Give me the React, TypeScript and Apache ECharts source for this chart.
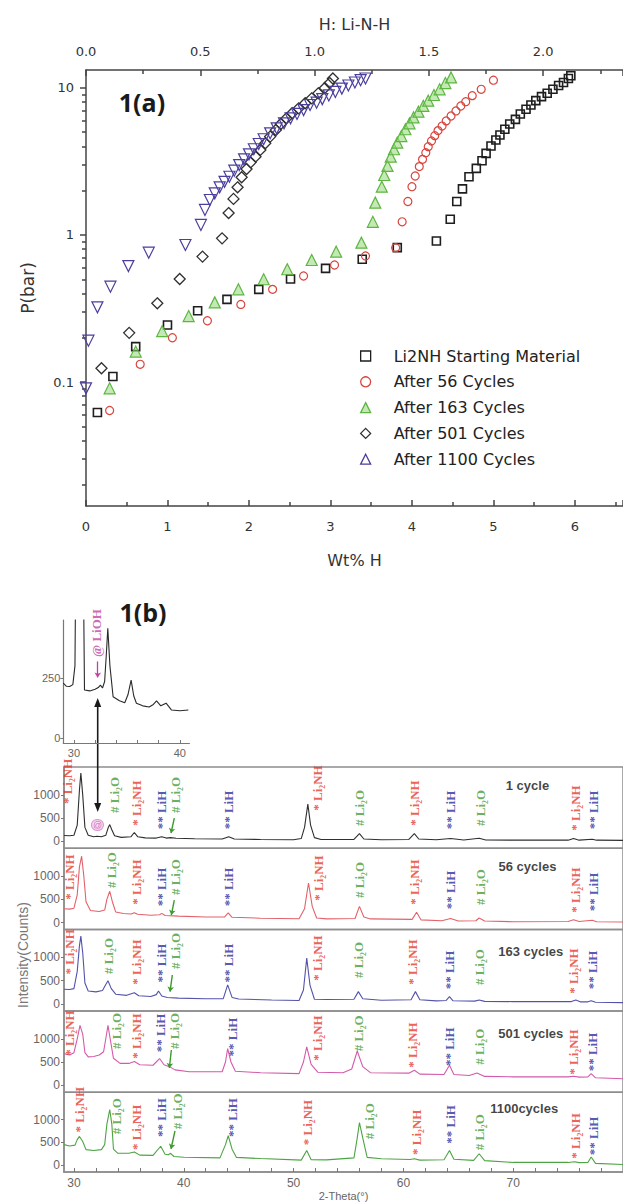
import React, { useEffect, useRef } from "react";
import * as echarts from "echarts";

// ---------- 1(a): pressure–composition isotherms (wt% H, P in bar) ----------
const isoStarting: [number, number][] = [
  [0.14, 0.062], [0.33, 0.109], [0.61, 0.174], [1.0, 0.244], [1.37, 0.305], [1.73, 0.365],
  [2.12, 0.427], [2.51, 0.502], [2.94, 0.593], [3.39, 0.684], [3.82, 0.82], [4.3, 0.91],
  [4.47, 1.28], [4.55, 1.69], [4.62, 2.06], [4.7, 2.49], [4.79, 2.84], [4.86, 3.2],
  [4.91, 3.59], [4.97, 4.03], [5.03, 4.43], [5.08, 4.79], [5.14, 5.24], [5.2, 5.69],
  [5.27, 6.12], [5.33, 6.65], [5.4, 7.16], [5.46, 7.66], [5.52, 8.2], [5.59, 8.73],
  [5.66, 9.2], [5.73, 9.8], [5.8, 10.4], [5.86, 10.9], [5.92, 11.6], [5.95, 12.1],
];
const iso56: [number, number][] = [
  [0.29, 0.064], [0.665, 0.132], [1.06, 0.2], [1.49, 0.261], [1.9, 0.337], [2.29, 0.427],
  [2.67, 0.526], [3.05, 0.625], [3.43, 0.72], [3.8, 0.82], [3.88, 1.23], [3.95, 1.69],
  [4.0, 2.13], [4.04, 2.52], [4.09, 2.92], [4.13, 3.27], [4.17, 3.63], [4.2, 3.99],
  [4.24, 4.36], [4.28, 4.74], [4.32, 5.13], [4.37, 5.51], [4.42, 5.97], [4.48, 6.45],
  [4.54, 6.98], [4.6, 7.54], [4.66, 8.07], [4.74, 8.87], [4.85, 9.8], [5.0, 11.3],
];
const iso163: [number, number][] = [
  [0.29, 0.0906], [0.61, 0.161], [0.935, 0.222], [1.26, 0.281], [1.58, 0.348], [1.87, 0.427],
  [2.18, 0.5], [2.47, 0.585], [2.77, 0.676], [3.07, 0.77], [3.38, 0.887], [3.52, 1.23],
  [3.55, 1.66], [3.63, 2.13], [3.66, 2.56], [3.7, 2.95], [3.74, 3.41], [3.78, 3.83],
  [3.82, 4.25], [3.87, 4.71], [3.92, 5.24], [3.97, 5.75], [4.02, 6.31], [4.08, 6.9],
  [4.14, 7.55], [4.2, 8.2], [4.27, 8.96], [4.34, 9.8], [4.41, 10.8], [4.48, 11.8],
];
const iso501: [number, number][] = [
  [0.19, 0.124], [0.53, 0.216], [0.875, 0.343], [1.15, 0.502], [1.43, 0.713], [1.67, 0.949],
  [1.75, 1.41], [1.81, 1.76], [1.86, 2.11], [1.91, 2.47], [1.97, 2.81], [2.02, 3.12],
  [2.08, 3.41], [2.14, 3.79], [2.2, 4.21], [2.26, 4.67], [2.33, 5.18], [2.39, 5.69],
  [2.46, 6.22], [2.53, 6.73], [2.61, 7.27], [2.69, 7.87], [2.77, 8.5], [2.85, 9.2],
  [2.93, 10.0], [2.99, 10.8], [3.03, 11.6],
];
const iso1100: [number, number][] = [
  [0.0, 0.0906], [0.03, 0.191], [0.14, 0.322], [0.3, 0.445], [0.52, 0.615], [0.77, 0.758],
  [1.22, 0.855], [1.41, 1.17], [1.46, 1.48], [1.52, 1.73], [1.58, 1.92], [1.64, 2.11],
  [1.7, 2.3], [1.76, 2.49], [1.82, 2.74], [1.88, 2.99], [1.94, 3.27], [2.0, 3.54],
  [2.06, 3.83], [2.12, 4.16], [2.18, 4.48], [2.26, 4.92], [2.34, 5.32], [2.43, 5.75],
  [2.51, 6.22], [2.59, 6.66], [2.67, 7.08], [2.75, 7.66], [2.83, 7.94], [2.9, 8.4],
  [2.98, 8.9], [3.06, 9.4], [3.14, 9.9], [3.22, 10.4], [3.3, 10.9], [3.37, 11.3], [3.43, 11.6],
];
const isoNames = [
  "Li2NH Starting Material",
  "After 56 Cycles",
  "After 163 Cycles",
  "After 501 Cycles",
  "After 1100 Cycles",
];
const pMajorTicks = [0.1, 1, 10];
const pMinorTicks = [
  0.02, 0.03, 0.04, 0.05, 0.06, 0.07, 0.08, 0.09,
  0.2, 0.3, 0.4, 0.5, 0.6, 0.7, 0.8, 0.9,
  2, 3, 4, 5, 6, 7, 8, 9,
];

// ---------- 1(b) inset: low-angle region of the 1-cycle pattern ----------
const insetTrace: [number, number][] = [
  [29.0, 228], [29.3, 215], [29.6, 214], [29.9, 222], [30.1, 300], [30.3, 1400], [30.6, 1600],
  [30.85, 900], [31.0, 200], [31.5, 196], [32.0, 203], [32.3, 210], [32.5, 220], [32.7, 208],
  [32.9, 235], [33.05, 340], [33.2, 456], [33.4, 300], [33.7, 172], [34.3, 155], [34.8, 147],
  [35.1, 180], [35.4, 241], [35.65, 175], [35.9, 145], [36.5, 134], [37.1, 129], [37.5, 140],
  [37.8, 155], [38.2, 134], [38.7, 145], [39.2, 117], [40.0, 114], [40.8, 117],
];
const insetXTicks = [30, 32, 34, 36, 38, 40];
const insetXLabels = [30, 40];
const insetYTicks = [0, 250];

// ---------- 1(b): XRD patterns after cycling (2-theta, counts) ----------
const xrdCycle1: [number, number][] = [
  [29.1, 125], [29.6, 120], [30.0, 130], [30.3, 350], [30.5, 1100], [30.63, 1470], [30.8, 1000],
  [31.0, 300], [31.3, 130], [31.8, 100], [32.1, 110], [32.5, 100], [32.9, 130], [33.1, 280],
  [33.26, 360], [33.45, 250], [33.7, 120], [34.3, 85], [35.2, 100], [35.5, 190], [35.8, 100],
  [36.5, 75], [37.5, 70], [38.0, 100], [38.4, 70], [38.8, 80], [39.3, 65], [41, 55], [43.5, 50],
  [44.1, 100], [44.6, 50], [47, 40], [50, 35], [50.7, 60], [51.0, 300], [51.3, 800], [51.55, 350],
  [51.9, 80], [52.5, 40], [55.5, 40], [56.0, 165], [56.4, 50], [58, 35], [60.5, 40], [61.0, 165],
  [61.4, 50], [63, 35], [64.3, 60], [65.5, 30], [66.9, 65], [67.5, 30], [70, 25], [75.0, 25],
  [75.5, 60], [76, 25], [77.2, 45], [77.6, 25], [80, 20],
];
const xrdCycle56: [number, number][] = [
  [29.1, 300], [29.6, 290], [30.0, 310], [30.3, 600], [30.5, 1200], [30.7, 1430], [30.9, 1000],
  [31.1, 450], [31.5, 260], [32.3, 240], [32.8, 270], [33.0, 500], [33.26, 675], [33.5, 450],
  [33.8, 230], [34.5, 195], [35.2, 185], [35.5, 215], [35.8, 180], [37.0, 160], [37.8, 170],
  [38.0, 200], [38.3, 155], [39.5, 140], [42, 120], [43.7, 120], [44.05, 210], [44.4, 115],
  [47, 95], [50.5, 85], [51.0, 300], [51.36, 853], [51.7, 350], [52.1, 100], [53, 80], [55.6, 90],
  [56.0, 350], [56.4, 120], [57, 80], [60.8, 70], [61.2, 222], [61.6, 60], [63.5, 40], [64.3, 90],
  [65, 35], [66.6, 40], [66.9, 100], [67.4, 35], [70, 20], [75, 25], [75.5, 60], [76, 25],
  [77.2, 50], [77.6, 20], [80, 15],
];
const xrdCycle163: [number, number][] = [
  [29.1, 315], [29.6, 310], [30.0, 330], [30.3, 700], [30.5, 1250], [30.63, 1460], [30.8, 1100],
  [31.0, 450], [31.3, 280], [32.0, 260], [32.6, 290], [32.9, 420], [33.1, 500], [33.4, 330],
  [33.8, 210], [34.8, 185], [35.5, 240], [35.9, 175], [37.0, 160], [37.5, 200], [37.7, 280],
  [38.0, 170], [38.5, 140], [39.5, 125], [42, 110], [43.6, 115], [44.0, 410], [44.4, 140],
  [45, 105], [48, 85], [50.5, 75], [50.9, 300], [51.2, 985], [51.5, 400], [51.9, 100], [53, 95],
  [55.5, 100], [55.9, 265], [56.3, 110], [58, 80], [60.7, 90], [61.1, 265], [61.5, 90], [63, 65],
  [63.9, 75], [64.2, 157], [64.5, 70], [66.5, 60], [66.9, 86], [67.4, 55], [70, 50], [75.3, 50],
  [75.7, 86], [76.1, 45], [76.8, 45], [77.1, 70], [77.5, 35], [80, 28],
];
const xrdCycle501: [number, number][] = [
  [29.1, 680], [29.6, 650], [30.0, 700], [30.3, 1000], [30.55, 1290], [30.8, 1100], [31.0, 700],
  [31.3, 610], [31.8, 620], [32.3, 650], [32.7, 720], [32.9, 1000], [33.1, 1290], [33.3, 1000],
  [33.6, 580], [34.2, 470], [35.0, 470], [35.5, 510], [36.0, 440], [37.2, 430], [37.8, 575],
  [38.2, 440], [38.7, 400], [39.2, 330], [40.5, 290], [43.5, 290], [43.8, 500], [44.0, 790],
  [44.3, 500], [44.7, 300], [47, 270], [50.5, 250], [50.9, 500], [51.2, 825], [51.6, 450],
  [52.2, 280], [54.5, 270], [55.3, 350], [55.8, 737], [56.3, 400], [57.0, 270], [60.5, 260],
  [61.0, 323], [61.5, 240], [63.7, 230], [64.2, 430], [64.6, 230], [66.0, 210], [66.7, 265],
  [67.4, 190], [70, 180], [75, 180], [75.5, 195], [76, 175], [76.8, 180], [77.1, 250], [77.5, 160],
  [80, 140],
];
const xrdCycle1100: [number, number][] = [
  [29.1, 450], [29.6, 420], [30.1, 440], [30.3, 560], [30.5, 630], [30.8, 520], [31.1, 340],
  [31.8, 320], [32.5, 340], [32.8, 450], [33.0, 900], [33.26, 1220], [33.45, 900], [33.6, 350],
  [34.0, 260], [35.0, 260], [35.5, 290], [36.0, 220], [37.2, 215], [37.9, 415], [38.3, 240],
  [38.6, 230], [38.8, 260], [39.1, 190], [40, 175], [43.3, 160], [43.8, 450], [44.05, 645],
  [44.4, 350], [44.8, 170], [47, 145], [50.7, 110], [51.2, 320], [51.6, 120], [53, 115],
  [55.5, 160], [55.8, 600], [56.0, 935], [56.3, 600], [56.7, 170], [58, 140], [60.6, 125],
  [61.0, 140], [61.5, 110], [63.7, 120], [64.2, 320], [64.6, 130], [66.4, 105], [66.9, 250],
  [67.4, 100], [70, 60], [75, 60], [75.6, 75], [76, 55], [76.8, 60], [77.1, 180], [77.5, 40],
  [80, 15],
];
const xrdTraces = [xrdCycle1, xrdCycle56, xrdCycle163, xrdCycle501, xrdCycle1100];
const cycleNames = ["1 cycle", "56 cycles", "163 cycles", "501 cycles", "1100cycles"];
const xrdTicks = [30, 32, 34, 36, 38, 40, 42, 44, 46, 48, 50, 52, 54, 56, 58, 60, 62, 64, 66, 68, 70, 72, 74, 76, 78];
const xrdLabels = [30, 40, 50, 60, 70];
const countTicks = [0, 500, 1000];

// phase tags: [phase, 2-theta, counts] – n = Li2NH, o = Li2O, h = LiH
type Tag = [string, number, number];
const tags1: Tag[] = [
  ["n", 29.4, 1290], ["o", 33.71, 997], ["n", 35.67, 824], ["h", 37.99, 674], ["o", 39.23, 997],
  ["h", 44.12, 674], ["n", 52.17, 1147], ["o", 56.04, 717], ["n", 61.01, 824], ["h", 64.33, 674],
  ["o", 66.99, 717], ["n", 75.64, 717], ["h", 77.3, 674],
];
const tags56: Tag[] = [
  ["n", 29.64, 981], ["o", 33.41, 1132], ["n", 35.67, 874], ["h", 37.99, 766], ["o", 39.29, 981],
  ["h", 44.12, 766], ["n", 52.26, 960], ["o", 56.04, 917], ["n", 61.01, 874], ["h", 64.33, 702],
  ["o", 66.99, 766], ["n", 75.64, 702], ["h", 77.3, 659],
];
const tags163: Tag[] = [
  ["n", 29.64, 1120], ["o", 33.17, 1031], ["n", 35.67, 902], ["h", 37.94, 880], ["o", 39.23, 1139],
  ["h", 44.12, 880], ["n", 52.17, 988], ["o", 55.88, 945], ["n", 60.86, 902], ["h", 64.18, 730],
  ["o", 66.9, 794], ["n", 75.49, 708], ["h", 77.24, 730],
];
const tags501: Tag[] = [
  ["n", 29.64, 1124], ["o", 33.92, 1167], ["n", 35.67, 1059], ["h", 37.87, 1124], ["o", 39.14, 1167],
  ["h", 44.42, 1037], ["n", 52.17, 1016], ["o", 55.88, 1117], ["n", 60.86, 865], ["h", 64.18, 829],
  ["o", 66.9, 829], ["n", 75.49, 715], ["h", 77.24, 715],
];
const tags1100: Tag[] = [
  ["n", 30.54, 1216], ["o", 33.92, 1072], ["n", 35.67, 829], ["h", 37.94, 1044], ["o", 39.44, 1180],
  ["h", 44.42, 1044], ["n", 51.27, 936], ["o", 56.94, 964], ["n", 61.16, 721], ["h", 64.33, 893],
  ["o", 66.9, 721], ["n", 75.64, 641], ["h", 77.3, 641],
];
const xrdTags = [tags1, tags56, tags163, tags501, tags1100];
// where each panel's cycle count is written [2-theta, counts]
const cycleNamePos: [number, number][] = [[71.3, 1212], [71.3, 1198], [71.6, 1123], [71.6, 1117], [71.0, 1253]];
// short arrows from the second Li2O tag down to its shoulder [x0, y0, x1, y1]
const li2oArrows: [number, number, number, number][] = [
  [39.14, 501, 38.84, 178], [39.14, 486, 38.87, 164], [38.96, 623, 38.75, 263],
  [38.87, 758, 38.69, 370], [39.2, 749, 38.84, 355],
];

const phaseText: Record<string, string> = { n: "* Li₂NH", o: "# Li₂O", h: "** LiH" };
const phaseColor: Record<string, string> = { n: "#e5392c", o: "#469b36", h: "#2b2c9c" };

const W = 623;
const H = 1202;
const SANS = "'DejaVu Sans', 'Liberation Sans', sans-serif";
const ARIAL = "'Liberation Sans', Arial, sans-serif";
const SERIF = "'Liberation Serif', 'DejaVu Serif', serif";

function buildOption() {
  const log = (p: number) => Math.log10(p);
  // grid geometry
  const aLeft = 86, aTop = 70, aWidth = 545, aHeight = 436;
  const wtMax = aWidth / 82.7;
  const hMax = aWidth / 232;
  const logMin = -1.8435, logMax = 1.1224;
  const panelTops = [767, 848.3, 929.6, 1010.9, 1092.2];
  const panelH = 81.3;
  const xrdLeft = 64, xrdWidth = 562.5, xrdMin = 29.095, xrdMax = 80;

  const axisGray = "#444";
  const grids: any[] = [
    { left: aLeft, top: aTop, width: aWidth, height: aHeight },
    { left: 63.3, top: 620, width: 126.1, height: 123 },
    ...panelTops.map((t) => ({
      left: xrdLeft, top: t, width: xrdWidth, height: panelH,
      show: true, borderColor: "#8d8d8d", borderWidth: 1.5, backgroundColor: "transparent",
    })),
  ];

  const xAxes: any[] = [
    {
      gridIndex: 0, type: "value", position: "bottom", min: 0, max: wtMax, interval: 1,
      axisLine: { onZero: false, lineStyle: { color: axisGray, width: 1.5 } },
      axisTick: { inside: true, length: 6, lineStyle: { color: axisGray, width: 1.5 } },
      minorTick: { show: true, splitNumber: 2, length: 4, lineStyle: { color: axisGray, width: 1.5 } },
      axisLabel: { showMaxLabel: false, margin: 14, fontSize: 13, color: "#333", fontFamily: SANS },
      splitLine: { show: false },
      name: "Wt% H", nameLocation: "middle", nameGap: 46,
      nameTextStyle: { fontSize: 16, color: "#333", fontFamily: SANS },
    },
    {
      gridIndex: 0, type: "value", position: "top", min: 0, max: hMax, interval: 0.5,
      axisLine: { onZero: false, lineStyle: { color: axisGray, width: 1.5 } },
      axisTick: { inside: true, length: 6, lineStyle: { color: axisGray, width: 1.5 } },
      minorTick: { show: true, splitNumber: 2, length: 4, lineStyle: { color: axisGray, width: 1.5 } },
      axisLabel: {
        showMaxLabel: false, margin: 12, fontSize: 13, color: "#333", fontFamily: SANS,
        formatter: (v: number) => v.toFixed(1),
      },
      splitLine: { show: false },
      name: "H: Li-N-H", nameLocation: "middle", nameGap: 38,
      nameTextStyle: { fontSize: 16, color: "#333", fontFamily: SANS },
    },
    {
      gridIndex: 1, type: "value", min: 29, max: 40.9,
      axisLine: { onZero: false, lineStyle: { color: "#777", width: 1.2 } },
      axisTick: { customValues: insetXTicks, inside: true, length: 3, lineStyle: { color: "#777" } },
      axisLabel: { customValues: insetXLabels, margin: 4, fontSize: 11, color: "#666", fontFamily: ARIAL },
      splitLine: { show: false },
    },
    ...panelTops.map((_, i) => ({
      gridIndex: 2 + i, type: "value", min: xrdMin, max: xrdMax,
      axisLine: { show: i === 4, onZero: false, lineStyle: { color: "#8d8d8d", width: 1.5 } },
      axisTick: {
        show: i === 4, customValues: xrdTicks, inside: true, length: 4,
        lineStyle: { color: "#777" },
      },
      axisLabel: {
        show: i === 4, customValues: xrdLabels, margin: 5, fontSize: 12, color: "#666", fontFamily: ARIAL,
      },
      splitLine: { show: false },
      name: i === 4 ? "2-Theta(°)" : "", nameLocation: "middle", nameGap: 18,
      nameTextStyle: { fontSize: 11, color: "#666", fontFamily: ARIAL },
    })),
  ];

  const yAxes: any[] = [
    {
      gridIndex: 0, type: "value", position: "left", min: logMin, max: logMax,
      axisLine: { onZero: false, lineStyle: { color: axisGray, width: 1.5 } },
      axisTick: { customValues: pMajorTicks.map(log), length: 6, lineStyle: { color: axisGray, width: 1.5 } },
      axisLabel: {
        customValues: pMajorTicks.map(log), margin: 12, fontSize: 13, color: "#333", fontFamily: SANS,
        formatter: (v: number) => {
          const hit = pMajorTicks.find((t) => Math.abs(log(t) - v) < 1e-6);
          return hit === undefined ? "" : String(hit);
        },
      },
      splitLine: { show: false },
      name: "P(bar)", nameLocation: "middle", nameGap: 50,
      nameTextStyle: { fontSize: 17, color: "#333", fontFamily: SANS },
    },
    {
      gridIndex: 0, type: "value", position: "left", min: logMin, max: logMax,
      axisLine: { show: false, onZero: false },
      axisTick: { customValues: pMinorTicks.map(log), length: 4, lineStyle: { color: axisGray, width: 1.5 } },
      axisLabel: { show: false },
      splitLine: { show: false },
    },
    {
      gridIndex: 1, type: "value", min: -20, max: 490,
      axisLine: { show: true, onZero: false, lineStyle: { color: "#777", width: 1.2 } },
      axisTick: { show: true, customValues: insetYTicks, length: 3, lineStyle: { color: "#777" } },
      axisLabel: { customValues: insetYTicks, margin: 3, fontSize: 11, color: "#666", fontFamily: ARIAL },
      splitLine: { show: false },
    },
    ...panelTops.map((_, i) => ({
      gridIndex: 2 + i, type: "value", min: -150, max: 1600,
      axisLine: { show: true, onZero: false, lineStyle: { color: "#8d8d8d", width: 1.5 } },
      axisTick: { show: true, customValues: countTicks, length: 3, lineStyle: { color: "#777" } },
      axisLabel: {
        customValues: countTicks, margin: 4, fontSize: 12, color: "#666", fontFamily: ARIAL,
        formatter: (v: number) => String(v),
      },
      splitLine: { show: false },
    })),
  ];

  const hollow = (stroke: string, width = 1.5, fill = "rgba(0,0,0,0)") => ({
    color: fill, borderColor: stroke, borderWidth: width, opacity: 1,
  });
  const isoSets = [isoStarting, iso56, iso163, iso501, iso1100];
  const isoStyle = [
    { symbol: "rect", symbolSize: 8, itemStyle: hollow("#1e1e1e", 1.6) },
    { symbol: "circle", symbolSize: 8, itemStyle: hollow("#d8443c", 1.2) },
    { symbol: "triangle", symbolSize: 11, itemStyle: hollow("#5db542", 1.2, "rgba(150,215,120,0.55)") },
    { symbol: "diamond", symbolSize: 11, itemStyle: hollow("#303030", 1.3) },
    { symbol: "triangle", symbolSize: 11, symbolRotate: 180, itemStyle: hollow("#4a3e9e", 1.2) },
  ];

  const series: any[] = isoSets.map((set, i) => ({
    name: isoNames[i], type: "scatter", xAxisIndex: 0, yAxisIndex: 0,
    data: set.map(([w, p]) => [w, log(p)]),
    ...isoStyle[i],
    emphasis: { disabled: true },
  }));

  // inset trace and its LiOH tag
  series.push({
    type: "line", xAxisIndex: 2, yAxisIndex: 2, data: insetTrace, symbol: "none", clip: true,
    lineStyle: { color: "#2a2a2a", width: 1.1 }, silent: true,
  });
  series.push({
    type: "scatter", xAxisIndex: 2, yAxisIndex: 2, symbolSize: 1, itemStyle: { color: "transparent" },
    silent: true,
    data: [{
      value: [32.1, 436],
      label: {
        show: true, position: "inside", rotate: 90, formatter: "@ LiOH", color: "#c23fa5",
        fontFamily: SERIF, fontWeight: "bold", fontSize: 13,
      },
    }],
    markLine: {
      silent: true, symbol: ["none", "arrow"], symbolSize: 5, label: { show: false },
      lineStyle: { color: "#c23fa5", width: 1.3, type: "solid" },
      data: [[{ coord: [32.25, 318] }, { coord: [32.25, 252] }]],
    },
  });

  xrdTraces.forEach((trace, i) => {
    const colors = ["#2f2f2f", "#e3626a", "#5353aa", "#d45aaa", "#4da444"];
    series.push({
      type: "line", xAxisIndex: 3 + i, yAxisIndex: 3 + i, data: trace, symbol: "none", clip: true,
      lineStyle: { color: colors[i], width: 1.1 }, silent: true,
    });
    const tagData: any[] = xrdTags[i].map(([k, x, y]) => ({
      value: [x, y],
      label: {
        show: true, position: "inside", rotate: 90, formatter: phaseText[k], color: phaseColor[k],
        fontFamily: SERIF, fontWeight: "bold", fontSize: 13,
      },
    }));
    tagData.push({
      value: cycleNamePos[i],
      label: {
        show: true, position: "inside", rotate: 0, formatter: cycleNames[i], color: "#111",
        fontFamily: ARIAL, fontWeight: "bold", fontSize: 13,
      },
    });
    if (i === 0) {
      tagData.push({
        value: [32.14, 351],
        label: {
          show: true, position: "inside", rotate: 0, formatter: "@", color: "#c23fa5",
          fontFamily: ARIAL, fontSize: 9, borderColor: "#d77cc4", borderWidth: 1, borderRadius: 6,
          backgroundColor: "#f7dcf0", padding: [1, 1, 0, 1],
        },
      });
    }
    const [ax0, ay0, ax1, ay1] = li2oArrows[i];
    series.push({
      type: "scatter", xAxisIndex: 3 + i, yAxisIndex: 3 + i, symbolSize: 1,
      itemStyle: { color: "transparent" }, silent: true, clip: false, data: tagData, z: 5,
      markLine: {
        silent: true, symbol: ["none", "arrow"], symbolSize: 5, label: { show: false },
        lineStyle: { color: "#3d9a2e", width: 1.4, type: "solid" },
        data: [[{ coord: [ax0, ay0] }, { coord: [ax1, ay1] }]],
      },
    });
  });

  const arrowX = 97.7;
  const graphic: any[] = [
    {
      type: "text", x: 142, y: 102, silent: true,
      style: { text: "1(a)", fill: "#1a1a1a", font: "bold 25px 'Open Sans', sans-serif", align: "center", verticalAlign: "middle" },
    },
    {
      type: "text", x: 143, y: 612, silent: true,
      style: { text: "1(b)", fill: "#1a1a1a", font: "bold 25px 'Open Sans', sans-serif", align: "center", verticalAlign: "middle" },
    },
    {
      type: "text", x: 23, y: 955, rotation: Math.PI / 2, silent: true,
      style: { text: "Intensity(Counts)", fill: "#777", font: `14px ${ARIAL}`, align: "center", verticalAlign: "middle" },
    },
    {
      type: "line", silent: true,
      shape: { x1: arrowX, y1: 704, x2: arrowX, y2: 806 },
      style: { stroke: "#1a1a1a", lineWidth: 1.6 },
    },
    {
      type: "polygon", silent: true,
      shape: { points: [[arrowX, 698], [arrowX - 3.5, 707], [arrowX + 3.5, 707]] },
      style: { fill: "#1a1a1a" },
    },
    {
      type: "polygon", silent: true,
      shape: { points: [[arrowX, 812], [arrowX - 3.5, 803], [arrowX + 3.5, 803]] },
      style: { fill: "#1a1a1a" },
    },
  ];

  return {
    animation: false,
    backgroundColor: "#ffffff",
    grid: grids,
    xAxis: xAxes,
    yAxis: yAxes,
    legend: {
      data: isoNames, orient: "vertical", left: 355, top: 343, itemWidth: 10, itemHeight: 10,
      itemGap: 9.8, selectedMode: false,
      itemStyle: { borderWidth: 1.3 },
      textStyle: { fontFamily: SANS, fontSize: 16, color: "#222", lineHeight: 16, padding: [0, 0, 0, 18] },
    },
    series,
    graphic,
  };
}

export default function App() {
  const ref = useRef<HTMLDivElement>(null);
  useEffect(() => {
    if (!ref.current) return;
    const chart = echarts.init(ref.current, null, { renderer: "svg", width: W, height: H });
    chart.setOption(buildOption() as any);
    return () => chart.dispose();
  }, []);
  return (
    <div
      ref={ref}
      style={{ position: "absolute", left: 0, top: 0, width: W, height: H, background: "#fff" }}
    />
  );
}
